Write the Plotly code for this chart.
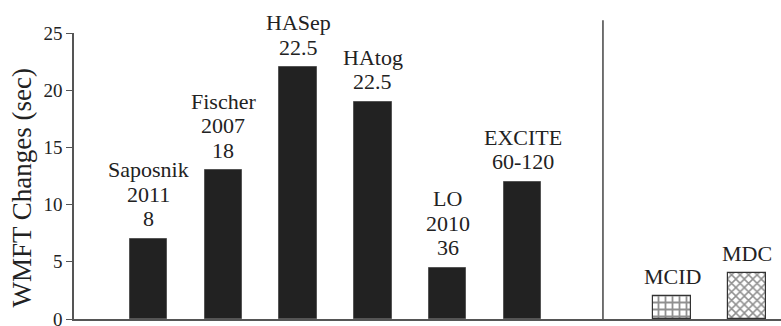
import plotly.graph_objects as go

categories = ["Saposnik", "Fischer", "HASep", "HAtog", "LO", "EXCITE", "MCID", "MDC"]
values = [7, 13, 22, 19, 4.5, 12, 2, 4]
label_lines = [
    ["Saposnik", "2011", "8"],
    ["Fischer", "2007", "18"],
    ["HASep", "22.5"],
    ["HAtog", "22.5"],
    ["LO", "2010", "36"],
    ["EXCITE", "60-120"],
    ["MCID"],
    ["MDC"],
]
positions = [0, 1, 2, 3, 4, 5, 7, 8]
y_ticks = [0, 5, 10, 15, 20, 25]
y_title = "WMFT Changes (sec)"

FONT = "Liberation Serif, Times New Roman, serif"
INK = "#222222"

fig = go.Figure()

# solid bars (studies)
fig.add_trace(go.Bar(
    x=positions[:6], y=values[:6], width=0.5,
    marker=dict(color=INK, line=dict(color="#555555", width=1)),
    hoverinfo="skip", showlegend=False,
))
# MCID (grid pattern)
fig.add_trace(go.Bar(
    x=[positions[6]], y=[values[6]], width=0.5,
    marker=dict(color="white", line=dict(color="#333333", width=1.2),
                pattern=dict(shape="+", size=7, solidity=0.45, fgcolor=INK, bgcolor="white")),
    hoverinfo="skip", showlegend=False,
))
# MDC (crosshatch pattern)
fig.add_trace(go.Bar(
    x=[positions[7]], y=[values[7]], width=0.5,
    marker=dict(color="white", line=dict(color="#333333", width=1.2),
                pattern=dict(shape="x", size=6, solidity=0.45, fgcolor=INK, bgcolor="white")),
    hoverinfo="skip", showlegend=False,
))

annotations = []
for pos, val, lines in zip(positions, values, label_lines):
    n = len(lines)
    for i, txt in enumerate(lines):
        k = n - 1 - i
        annotations.append(dict(
            x=pos, y=val, xref="x", yref="y", text=txt, showarrow=False,
            xanchor="center", yanchor="middle", yshift=20 + 24.5 * k,
            font=dict(family=FONT, size=22, color=INK),
        ))

annotations.append(dict(
    x=0, y=0.456, xref="paper", yref="paper", text=y_title, showarrow=False,
    xanchor="center", yanchor="middle", xshift=-52, textangle=-90,
    font=dict(family=FONT, size=27, color=INK),
))

fig.add_shape(type="line", xref="x", yref="paper", x0=6.075, x1=6.075, y0=0, y1=1.045,
              line=dict(color="#444444", width=1.5))

fig.update_layout(
    width=781, height=326,
    margin=dict(l=74, r=0, t=33, b=7),
    paper_bgcolor="white", plot_bgcolor="white",
    bargap=0,
    annotations=annotations,
    xaxis=dict(range=[-0.996, 8.455], showticklabels=False, ticks="", showgrid=False,
               zeroline=False, showline=True, linecolor="#555555", linewidth=1.5,
               automargin=False),
    yaxis=dict(range=[0, 25], tickvals=y_ticks, ticks="outside", ticklen=6, tickcolor="#555555",
               showgrid=False, zeroline=False, showline=True, linecolor="#555555", linewidth=1.5,
               ticklabeloverflow="allow", automargin=False,
               tickfont=dict(family=FONT, size=19, color=INK)),
)

fig.write_html(
    "out.html",
    config={"displayModeBar": False},
    post_script="document.body.style.margin='0';document.body.style.overflow='hidden';",
)
